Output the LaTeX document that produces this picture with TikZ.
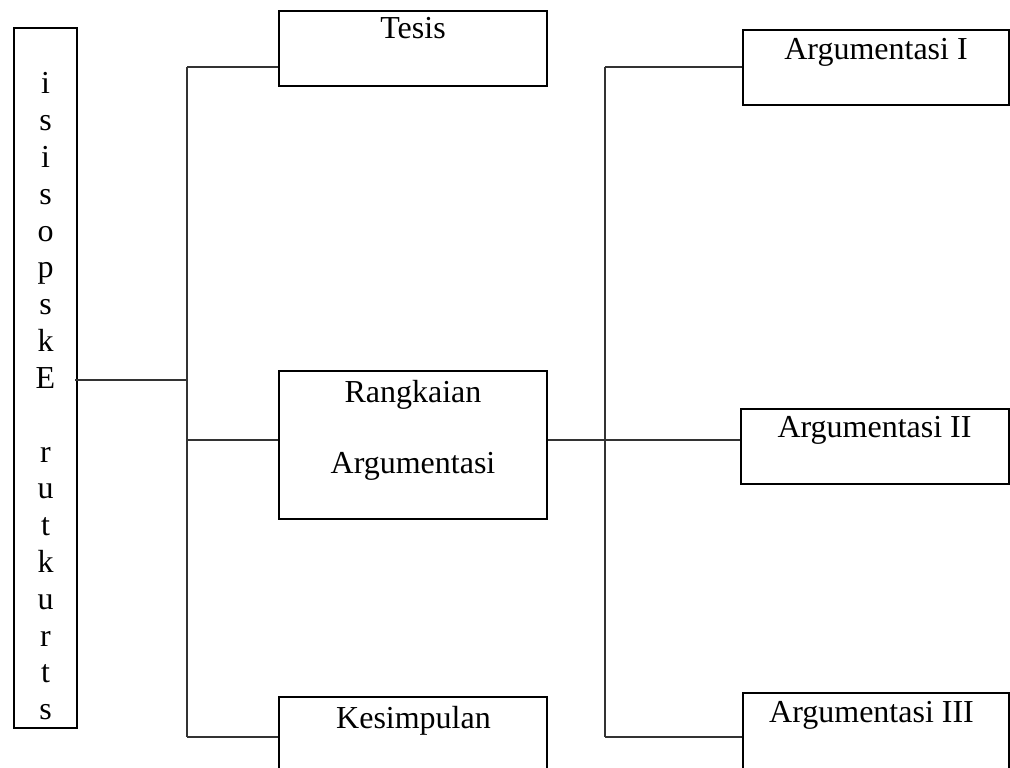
\documentclass[tikz,border=0pt]{standalone}
\usepackage{fontspec}
\setmainfont{Liberation Serif}
\usetikzlibrary{fit}
\tikzset{
  boxframe/.style={draw=black, line width=0.75pt, inner sep=0pt, rectangle},
  lbl/.style={anchor=base, inner sep=0pt, font=\fontsize{12}{13.8}\selectfont},
  conn/.style={draw=black!80, line width=0.4pt},
}
\begin{document}
\begin{tikzpicture}[x=0.375pt,y=-0.375pt]
\useasboundingbox (0,0) rectangle (1010,768);
\clip (0,0) rectangle (1010,768);
\fill[white] (0,0) rectangle (1010,768);

% left vertical box
\node[boxframe, fit={(14,28) (77,728)}] (struk) {};
\foreach \ch/\k in {i/0,s/1,i/2,s/3,o/4,p/5,s/6,k/7,E/8,r/10,u/11,t/12,k/13,u/14,r/15,t/16,s/17}
  \node[lbl] (c\k) at (45.5,{94+36.8*\k}) {\ch};

% middle column
\node[boxframe, fit={(279,11) (547,86)}] (tesis) {};
\node[lbl] (tesisT) at (413,39) {Tesis};
\node[boxframe, fit={(279,371) (547,519)}] (rang) {};
\node[lbl] (rangA) at (413,402) {Rangkaian};
\node[lbl] (rangB) at (413,473) {Argumentasi};
\node[boxframe, fit={(279,697) (547,800)}] (kes) {};
\node[lbl] (kesT) at (413.5,728) {Kesimpulan};

% right column
\node[boxframe, fit={(743,30) (1008.5,105)}] (arg1) {};
\node[lbl] (arg1T) at (876,60) {Argumentasi I};
\node[boxframe, fit={(741,409) (1008.5,484)}] (arg2) {};
\node[lbl] (arg2T) at (874.5,438) {Argumentasi II};
\node[boxframe, fit={(743,693) (1008.5,800)}] (arg3) {};
\node[lbl] (arg3T) at (871.5,722) {Argumentasi III};

% junction coordinates
\coordinate (lt) at (187,67);
\coordinate (lm) at (187,380);
\coordinate (lr) at (187,440);
\coordinate (lb) at (187,737);
\coordinate (rt) at (605,67);
\coordinate (rm) at (605,440);
\coordinate (rb) at (605,737);

% connectors
\draw[conn] ([xshift=-1pt]struk.east |- lm) -- (lm);
\draw[conn] (lt) -- (lb);
\draw[conn] (lt) -- (tesis.west |- lt);
\draw[conn] (lr) -- (rang.west |- lr);
\draw[conn] (lb) -- (kes.west |- lb);
\draw[conn] (rang.east |- rm) -- (arg2.west |- rm);
\draw[conn] (rt) -- (rb);
\draw[conn] (rt) -- (arg1.west |- rt);
\draw[conn] (rb) -- (arg3.west |- rb);
\end{tikzpicture}
\end{document}
